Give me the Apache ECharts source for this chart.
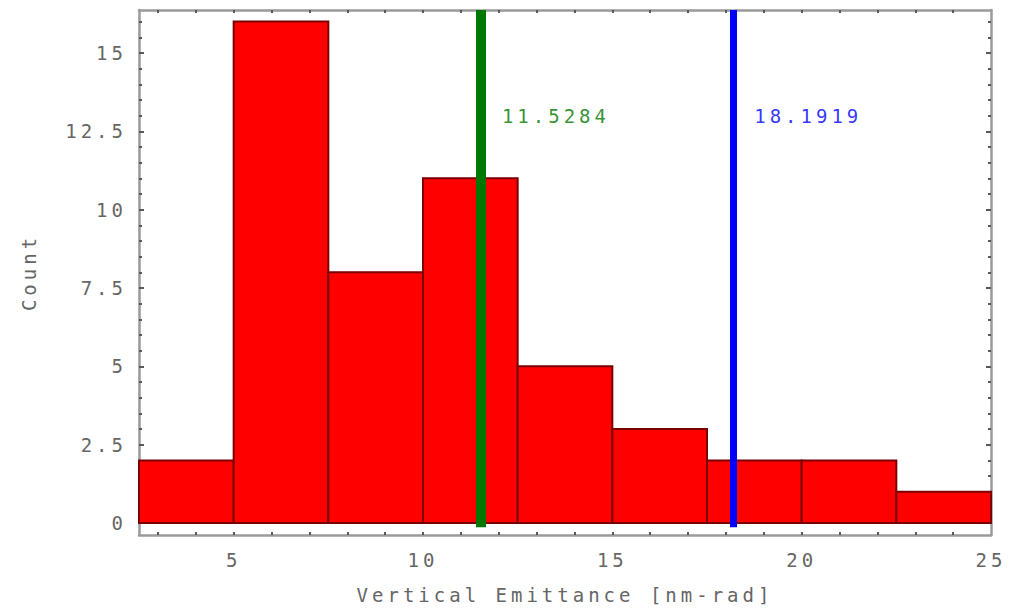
<!DOCTYPE html>
<html>
<head>
<meta charset="utf-8">
<script src="https://cdn.jsdelivr.net/npm/echarts@6/dist/echarts.min.js"></script>
<style>
  html, body { margin: 0; padding: 0; background: #fff; }
  #chart { width: 1012px; height: 611px; letter-spacing: 4px; }
</style>
</head>
<body>
<div id="chart"></div>
<script>
// histogram bins (start of each 2.5 wide bin) and counts
const binStarts = [2.5, 5, 7.5, 10, 12.5, 15, 17.5, 20, 22.5];
const binWidth = 2.5;
const counts = [2, 16, 8, 11, 5, 3, 2, 2, 1];

// mean lines
const meanValues = [11.5284, 18.1919];
const meanLabels = ['11.5284', '18.1919'];
const meanColors = ['#007800', '#0000ff'];

// axis ticks
const xLabels = [5, 10, 15, 20, 25];
const xMinorTicks = [3, 4, 5, 6, 7, 8, 9, 10, 11, 12, 13, 14, 15, 16, 17, 18, 19, 20, 21, 22, 23, 24];
const yLabels = [0, 2.5, 5, 7.5, 10, 12.5, 15];
const yMinorTicks = [];
for (let v = 0; v <= 16; v += 0.5) yMinorTicks.push(v);

const xMin = 2.5, xMax = 25;
const yMin = -0.38, yMax = 16.37;

const font = 'DejaVu Sans Mono';
const fontSize = 19;
const textColor = '#666666';
const frameColor = '#9a9a9a';

const histData = binStarts.map((s, i) => [s, s + binWidth, counts[i]]);

function yAxisOf(position, ticks, len, withLine, withLabel) {
  return {
    type: 'value', position: position, min: yMin, max: yMax,
    axisLine: { show: withLine, onZero: false, lineStyle: { color: frameColor, width: 2.5 } },
    axisTick: { show: true, inside: true, length: len, customValues: ticks, lineStyle: { color: '#5a5a5a', width: 2 } },
    axisLabel: withLabel ? {
      customValues: yLabels, margin: 12, color: textColor, fontFamily: font, fontSize: fontSize,
      formatter: v => String(v)
    } : { show: false },
    splitLine: { show: false },
    name: withLabel ? 'Count' : '',
    nameLocation: 'middle', nameGap: 101,
    nameTextStyle: { color: textColor, fontFamily: font, fontSize: fontSize }
  };
}

function xAxisOf(position, withLabel) {
  return {
    type: 'value', position: position, min: xMin, max: xMax,
    axisLine: { show: true, onZero: false, lineStyle: { color: frameColor, width: 2.5 } },
    axisTick: { show: true, inside: true, length: 3, customValues: xMinorTicks, lineStyle: { color: '#5a5a5a', width: 2 } },
    axisLabel: withLabel ? {
      customValues: xLabels, margin: 15, color: textColor, fontFamily: font, fontSize: fontSize
    } : { show: false },
    splitLine: { show: false },
    name: withLabel ? 'Vertical Emittance [nm-rad]' : '',
    nameLocation: 'middle', nameGap: 50,
    nameTextStyle: { color: textColor, fontFamily: font, fontSize: fontSize }
  };
}

const chart = echarts.init(document.getElementById('chart'), null, { renderer: 'svg' });
chart.setOption({
  animation: false,
  backgroundColor: '#ffffff',
  grid: { left: 139, right: 21, top: 10, bottom: 76 },
  xAxis: [xAxisOf('bottom', true), xAxisOf('top', false)],
  yAxis: [
    yAxisOf('left', yLabels, 5, true, true),
    yAxisOf('right', yLabels, 5, true, false),
    yAxisOf('left', yMinorTicks, 3, false, false),
    yAxisOf('right', yMinorTicks, 3, false, false)
  ],
  series: [
    {
      type: 'custom',
      xAxisIndex: 0, yAxisIndex: 0,
      data: histData,
      encode: { x: [0, 1], y: 2 },
      renderItem: function (params, api) {
        const p0 = api.coord([api.value(0), 0]);
        const p1 = api.coord([api.value(1), api.value(2)]);
        return {
          type: 'rect',
          shape: { x: p0[0], y: p1[1], width: p1[0] - p0[0], height: p0[1] - p1[1] },
          style: { fill: '#ff0000', stroke: '#7a0000', lineWidth: 2 }
        };
      },
      z: 2
    },
    {
      type: 'line',
      xAxisIndex: 0, yAxisIndex: 0,
      data: [],
      silent: true,
      markLine: {
        symbol: 'none',
        silent: true,
        label: { show: false },
        data: meanValues.map((m, i) => [
          { coord: [m, -0.13], lineStyle: { color: meanColors[i], width: i === 0 ? 10 : 7, type: 'solid' } },
          { coord: [m, yMax] }
        ])
      },
      z: 3
    },
    {
      type: 'scatter',
      xAxisIndex: 0, yAxisIndex: 0,
      symbolSize: 0,
      silent: true,
      data: meanValues.map((m, i) => ({
        value: [m, 13],
        label: {
          show: true, position: 'right', distance: 21,
          formatter: meanLabels[i], color: meanColors[i],
          fontFamily: font, fontSize: fontSize
        }
      })),
      z: 4
    }
  ]
});
</script>
</body>
</html>
